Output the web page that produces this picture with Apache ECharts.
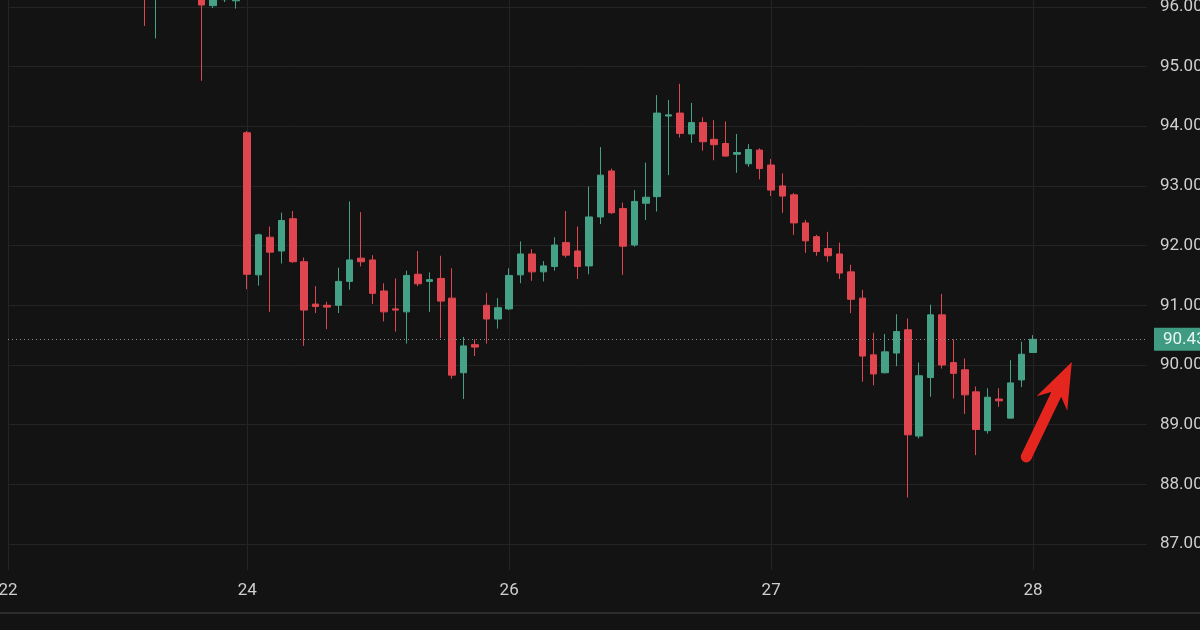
<!DOCTYPE html>
<html>
<head>
<meta charset="utf-8">
<script src="https://cdn.jsdelivr.net/npm/echarts@6/dist/echarts.min.js"></script>
<style>
  html, body { margin: 0; padding: 0; background: #131313; }
  #mainChart { width: 1200px; height: 630px; }
</style>
</head>
<body>
<div id="mainChart"></div>
<script>
// slots on the time axis (one per hourly candle), first visible candle sits at slot 12
var slotCount = 101;
var startIndex = 12;

var tickIndex = [0, 21, 44, 67, 90];
var tickLabels = ["22", "24", "26", "27", "28"];

// null = candle not visible in the picture
var opens = [96.6, 96.2, null, null, null, 96.5, 96.02, 96.12, 96.1,
    93.89, 91.51, 92.14, 91.91, 92.45, 91.73, 91.02, 91.0, 91.0, 91.40, 91.79, 91.76, 91.24, 90.94, 90.89, 91.52, 91.40, 91.45, 91.12, 89.87, 90.34, 91.0, 90.77,
    90.94, 91.51, 91.86, 91.56, 91.65, 92.05, 91.91, 91.66, 92.48, 93.25, 92.62, 92.01, 92.71, 92.82, 94.17, 94.22, 93.87, 94.06, 93.78, 93.71, 93.53, 93.37, 93.60,
    93.35, 93.0, 92.85, 92.38, 92.15, 91.95, 91.86, 91.56, 91.12, 90.17, 89.87, 90.20, 90.59, 88.81, 89.79, 90.84, 90.04, 89.92, 89.55, 88.90, 89.43, 89.11, 89.75,
    90.21];
var closes = [96.3, 96.5, null, null, null, 96.03, 96.3, 96.2, 96.3,
    91.52, 92.18, 91.89, 92.42, 91.73, 90.92, 90.98, 90.97, 91.40, 91.76, 91.73, 91.20, 90.89, 90.92, 91.50, 91.36, 91.43, 91.07, 89.83, 90.32, 90.30, 90.77, 90.96,
    91.50, 91.86, 91.56, 91.66, 92.01, 91.84, 91.65, 92.48, 93.18, 92.55, 91.99, 92.74, 92.81, 94.22, 94.19, 93.88, 94.06, 93.74, 93.69, 93.50, 93.56, 93.61, 93.29,
    92.93, 92.83, 92.38, 92.08, 91.90, 91.83, 91.54, 91.10, 90.15, 89.85, 90.22, 90.56, 88.83, 89.82, 90.84, 90.0, 89.86, 89.50, 88.92, 89.46, 89.40, 89.70, 90.18,
    90.43];
var lows = [95.68, 95.47, null, null, null, 94.76, 95.98, 96.08, 95.97,
    91.27, 91.33, 90.89, 91.70, 91.71, 90.32, 90.87, 90.60, 90.87, 91.26, 91.65, 91.02, 90.73, 90.56, 90.36, 91.32, 90.89, 90.45, 89.77, 89.43, 90.15, 90.36, 90.61,
    90.92, 91.37, 91.41, 91.40, 91.58, 91.80, 91.44, 91.52, 92.36, 92.53, 91.51, 91.98, 92.43, 92.57, 93.18, 93.81, 93.72, 93.59, 93.43, 93.49, 93.22, 93.32, 93.11,
    92.83, 92.55, 92.18, 91.88, 91.83, 91.73, 91.44, 90.87, 89.72, 89.66, 89.86, 89.98, 87.78, 88.77, 89.47, 89.94, 89.44, 89.18, 88.49, 88.85, 89.30, 89.11, 89.63,
    90.21];
var highs = [96.8, 96.7, null, null, null, 96.6, 96.4, 96.3, 96.4,
    93.92, 92.20, 92.32, 92.55, 92.58, 91.80, 91.32, 91.06, 91.63, 92.74, 92.56, 91.84, 91.37, 91.45, 91.58, 91.91, 91.55, 91.83, 91.62, 90.47, 90.43, 91.21, 91.12,
    91.62, 92.07, 91.94, 91.74, 92.14, 92.58, 92.32, 92.99, 93.65, 93.29, 92.72, 92.93, 93.39, 94.52, 94.44, 94.71, 94.39, 94.15, 94.10, 94.08, 93.87, 93.70, 93.63,
    93.45, 93.21, 92.88, 92.43, 92.18, 92.23, 92.05, 91.68, 91.26, 90.54, 90.52, 90.85, 90.78, 90.04, 91.01, 91.19, 90.43, 90.11, 89.64, 89.61, 89.61, 90.08, 90.39,
    90.50];

var lastPrice = closes[closes.length - 1];

// red annotation arrow: [slot, price] of tail and tip
var arrowFrom = [89.4, 88.46];
var arrowTo = [93.4, 90.05];

var upColor = "#45a287";
var downColor = "#e0464f";

var categories = [];
var candleData = [];
for (var i = 0; i < slotCount; i++) {
    categories.push("s" + i);
    var k = i - startIndex;
    if (k >= 0 && k < opens.length && opens[k] !== null) {
        candleData.push([opens[k], closes[k], lows[k], highs[k]]);
    } else {
        candleData.push("-");
    }
}

function isTick(index) {
    return tickIndex.indexOf(index) >= 0;
}

var chart = echarts.init(document.getElementById("mainChart"));

chart.setOption({
    backgroundColor: "#131313",
    animation: false,
    grid: { left: 8, right: 53, top: 0, height: 570, containLabel: false, outerBoundsMode: "none" },
    xAxis: [{
        type: "category",
        data: categories,
        boundaryGap: false,
        axisLine: { show: false },
        axisTick: { show: false },
        axisLabel: {
            interval: function (index) { return isTick(index); },
            formatter: function (value, index) {
                var p = tickIndex.indexOf(index);
                return p >= 0 ? tickLabels[p] : "";
            },
            color: "#cfcfcf",
            fontSize: 17,
            fontFamily: "Roboto",
            margin: 12
        },
        splitLine: {
            show: true,
            interval: function (index) { return isTick(index); },
            lineStyle: { color: "#242424", width: 1 }
        }
    }, {
        type: "value",
        min: 0,
        max: slotCount - 1,
        show: false
    }],
    yAxis: {
        type: "value",
        position: "right",
        scale: true,
        min: 86.566,
        max: 96.114,
        splitNumber: 10,
        minInterval: 1,
        maxInterval: 1,
        axisLine: { show: false },
        axisTick: { show: false },
        axisLabel: {
            showMinLabel: false,
            showMaxLabel: false,
            formatter: function (v) { return v.toFixed(2); },
            color: "#cfcfcf",
            fontSize: 17,
            fontFamily: "Roboto",
            margin: 13
        },
        splitLine: {
            showMinLine: false,
            showMaxLine: false,
            lineStyle: { color: "#242424", width: 1 }
        }
    },
    series: [{
        type: "candlestick",
        data: candleData,
        barWidth: 7,
        clip: true,
        itemStyle: {
            color: upColor,
            color0: downColor,
            borderColor: upColor,
            borderColor0: downColor,
            borderWidth: 1
        },
        markLine: {
            silent: true,
            symbol: ["none", "none"],
            lineStyle: { color: "#8c8c8c", type: [1, 3], width: 1 },
            label: {
                position: "end",
                distance: 7,
                formatter: function () { return lastPrice.toFixed(2); },
                backgroundColor: "#3f9b82",
                color: "#eaf6f2",
                fontSize: 17,
                fontFamily: "Roboto",
                padding: [3, 9, 3, 9]
            },
            data: [{ yAxis: lastPrice }]
        }
    }, {
        type: "custom",
        xAxisIndex: 1,
        yAxisIndex: 0,
        silent: true,
        clip: false,
        data: [[arrowFrom[0], arrowFrom[1], arrowTo[0], arrowTo[1]]],
        encode: { x: [0, 2], y: [1, 3] },
        renderItem: function (params, api) {
            var a = api.coord([api.value(0), api.value(1)]);
            var b = api.coord([api.value(2), api.value(3)]);
            var dx = b[0] - a[0], dy = b[1] - a[1];
            var len = Math.sqrt(dx * dx + dy * dy);
            var ux = dx / len, uy = dy / len;
            var nx = -uy, ny = ux;
            var shaft = 5.5, headLen = 46, headHalf = 17, notch = 10;
            var bx = b[0] - ux * headLen, by = b[1] - uy * headLen;
            var jx = bx + ux * notch, jy = by + uy * notch;
            var pts = [
                [a[0] + nx * shaft, a[1] + ny * shaft],
                [jx + nx * shaft, jy + ny * shaft],
                [bx + nx * headHalf, by + ny * headHalf],
                [b[0], b[1]],
                [bx - nx * headHalf, by - ny * headHalf],
                [jx - nx * shaft, jy - ny * shaft],
                [a[0] - nx * shaft, a[1] - ny * shaft]
            ];
            return {
                type: "group",
                children: [
                    { type: "polygon", shape: { points: pts }, style: { fill: "#e5261f" } },
                    { type: "circle", shape: { cx: a[0], cy: a[1], r: shaft }, style: { fill: "#e5261f" } }
                ]
            };
        }
    }],
    graphic: [{
        type: "rect",
        left: 0,
        top: 612,
        shape: { width: 1200, height: 2 },
        style: { fill: "#2c2c2c" },
        silent: true
    }]
});
</script>
</body>
</html>
